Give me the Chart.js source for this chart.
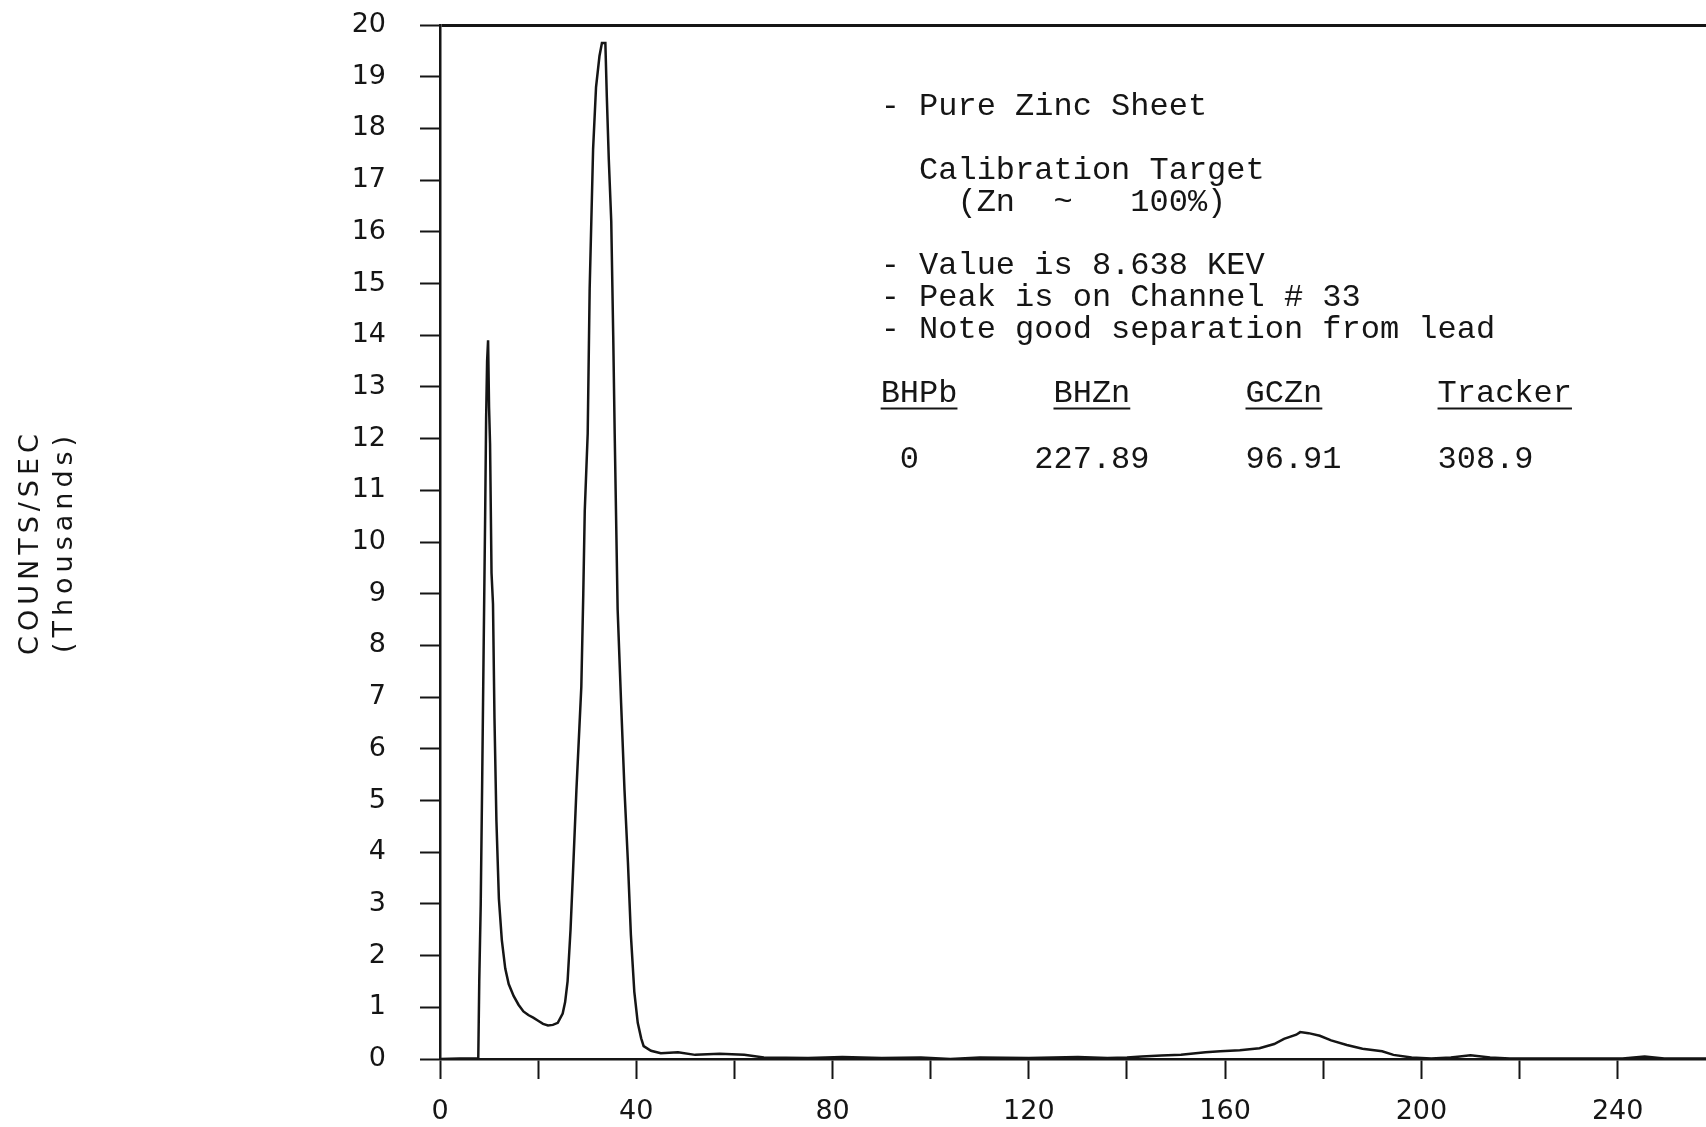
<!DOCTYPE html>
<html>
<head>
<meta charset="utf-8">
<script src="https://cdn.jsdelivr.net/npm/chart.js@4.4.1/dist/chart.umd.min.js"></script>
<style>
  html, body { margin: 0; padding: 0; background: #fff; }
  #wrap { width: 1706px; height: 1127px; position: relative; }
</style>
</head>
<body>
<div id="wrap"><canvas id="chart"></canvas></div>
<script>
// spectrum: channel number vs counts/sec (thousands)
const channels = [
	0, 4, 7.8, 8.0, 8.3, 8.6, 8.9, 9.2, 9.4, 9.6, 9.8, 10.0, 10.2, 10.5, 10.8, 11.1, 11.5, 12.0, 12.6, 13.3,
	14, 15, 16, 17, 18, 19, 20, 21, 22, 23, 24, 25, 25.5, 26, 26.6, 27.1, 27.8, 28.4, 28.8, 29.2,
	29.5, 30.1, 30.5, 31.2, 31.8, 32.5, 33.0, 33.7, 34.0, 34.4, 34.9, 35.3, 35.6, 36.2, 36.9, 37.6, 38.3, 38.9, 39.6, 40.3,
	41.0, 41.5, 43, 45, 48.5, 52, 57, 62, 66, 75, 82, 90, 98, 104, 110, 120, 130, 136, 140, 143,
	147, 151, 156, 159, 163, 167, 170, 172, 174.5, 175.3, 177, 179.3, 181.6, 184.8, 188, 192, 194.3, 198, 202, 206,
	210, 214, 218, 230, 241, 245.5, 249.5, 258
];
const counts = [
	0, 0.01, 0.01, 1.5, 3.0, 5.4, 8.0, 10.5, 12.4, 13.5, 13.9, 12.6, 11.9, 9.4, 8.8, 6.6, 4.6, 3.1, 2.3, 1.75,
	1.45, 1.22, 1.05, 0.92, 0.85, 0.8, 0.74, 0.68, 0.65, 0.66, 0.7, 0.88, 1.1, 1.5, 2.5, 3.6, 5.2, 6.4, 7.2, 9.0,
	10.6, 12.1, 14.9, 17.6, 18.8, 19.4, 19.65, 19.65, 18.6, 17.4, 16.2, 14.0, 12.1, 8.7, 6.9, 5.2, 3.8, 2.4, 1.3, 0.7,
	0.4, 0.25, 0.16, 0.11, 0.13, 0.08, 0.1, 0.08, 0.03, 0.02, 0.04, 0.02, 0.03, 0.0, 0.03, 0.02, 0.04, 0.02, 0.03, 0.05,
	0.07, 0.08, 0.13, 0.15, 0.17, 0.21, 0.29, 0.39, 0.47, 0.52, 0.5, 0.45, 0.36, 0.27, 0.2, 0.15, 0.08, 0.03, 0.01, 0.03,
	0.07, 0.03, 0.01, 0.01, 0.01, 0.05, 0.01, 0.01
];

const xTicks = [0, 20, 40, 60, 80, 100, 120, 140, 160, 180, 200, 220, 240];
const xLabels = ['0', '', '40', '', '80', '', '120', '', '160', '', '200', '', '240'];
const yTicks = [0, 1, 2, 3, 4, 5, 6, 7, 8, 9, 10, 11, 12, 13, 14, 15, 16, 17, 18, 19, 20];

const axisTitle = ['COUNTS/SEC', '(Thousands)'];
const notes = [
	'- Pure Zinc Sheet',
	'',
	'  Calibration Target',
	'    (Zn  ~   100%)',
	'',
	'- Value is 8.638 KEV',
	'- Peak is on Channel # 33',
	'- Note good separation from lead'
];
const tableHeads = ['BHPb', 'BHZn', 'GCZn', 'Tracker'];
const tableVals = ['0', '227.89', '96.91', '308.9'];

const ink = '#151515';
const tickFont = { family: 'DejaVu Sans', size: 27 };

const notesPlugin = {
	id: 'notes',
	afterDatasetsDraw(chart) {
		const { ctx, scales: { x, y }, chartArea } = chart;
		ctx.save();
		ctx.fillStyle = ink;
		ctx.strokeStyle = ink;
		ctx.font = '32px "Liberation Mono", "DejaVu Sans Mono", monospace';
		ctx.textBaseline = 'middle';
		const left = x.getPixelForValue(89.8);
		const cw = ctx.measureText('M').width;
		const top = y.getPixelForValue(18.42);
		notes.forEach((line, i) => ctx.fillText(line, left, top + i * 31.8));

		// little table under the notes
		const headCols = [0, 9, 19, 29];
		const valCols = [1, 8, 19, 29];
		const headY = y.getPixelForValue(12.87);
		const valY = y.getPixelForValue(11.6);
		ctx.lineWidth = 2;
		tableHeads.forEach((h, i) => {
			const hx = left + headCols[i] * cw;
			ctx.fillText(h, hx, headY);
			ctx.beginPath();
			ctx.moveTo(hx, headY + 15);
			ctx.lineTo(hx + ctx.measureText(h).width, headY + 15);
			ctx.stroke();
		});
		tableVals.forEach((v, i) => ctx.fillText(v, left + valCols[i] * cw, valY));

		// y axis title, far left
		ctx.font = '27px "DejaVu Sans"';
		ctx.letterSpacing = '5px';
		ctx.textAlign = 'center';
		ctx.textBaseline = 'alphabetic';
		const cy = (chartArea.top + chartArea.bottom) / 2;
		[[axisTitle[0], 38], [axisTitle[1], 72]].forEach(([t, bx]) => {
			ctx.save();
			ctx.translate(bx, cy);
			ctx.rotate(-Math.PI / 2);
			ctx.fillText(t, 0, 0);
			ctx.restore();
		});
		ctx.restore();
	}
};

new Chart(document.getElementById('chart'), {
	type: 'scatter',
	data: {
		datasets: [
			{
				data: channels.map((c, i) => ({ x: c, y: counts[i] })),
				showLine: true,
				borderColor: ink,
				borderWidth: 2.5,
				pointRadius: 0,
				tension: 0,
				fill: false
			}
		]
	},
	options: {
		responsive: true,
		maintainAspectRatio: false,
		animation: false,
		layout: { padding: { top: 25, right: 0, bottom: 0, left: 0 } },
		plugins: {
			legend: { display: false },
			tooltip: { enabled: false }
		},
		scales: {
			x: {
				type: 'linear',
				min: 0,
				max: 258,
				afterBuildTicks: (s) => {
					s.ticks = xTicks.map((v) => ({ value: v }));
				},
				afterFit: (s) => {
					s.height = 68;
				},
				ticks: {
					callback: (v, i) => xLabels[i],
					font: tickFont,
					color: ink,
					padding: 17,
					maxRotation: 0,
					autoSkip: false
				},
				grid: {
					drawOnChartArea: false,
					tickLength: 20,
					tickColor: ink,
					tickWidth: 2
				},
				border: { display: true, color: ink, width: 2.5 }
			},
			y: {
				min: 0,
				max: 20,
				afterBuildTicks: (s) => {
					s.ticks = yTicks.map((v) => ({ value: v }));
				},
				afterFit: (s) => {
					// keep the label padding from pushing the plot down
					s.width = 440;
					s.paddingTop = 0;
					s.paddingBottom = 0;
				},
				ticks: {
					font: tickFont,
					color: ink,
					padding: 34,
					autoSkip: false
				},
				grid: {
					color: (c) => (c.tick && c.tick.value === 20 ? ink : 'rgba(0,0,0,0)'),
					lineWidth: (c) => (c.tick && c.tick.value === 20 ? 3 : 1),
					tickLength: 20,
					tickColor: ink,
					tickWidth: 2
				},
				border: { display: true, color: ink, width: 2.5 }
			}
		}
	},
	plugins: [notesPlugin]
});
</script>
</body>
</html>
